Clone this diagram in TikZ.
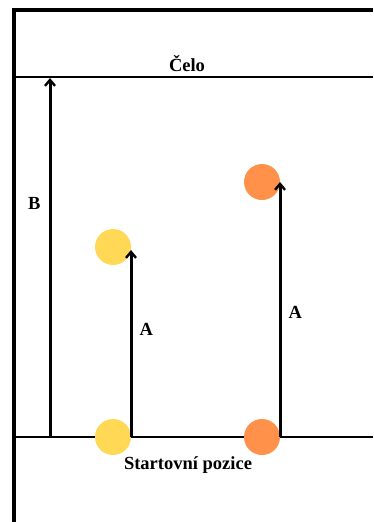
\documentclass[tikz,border=0pt]{standalone}
\usepackage{fontspec}
\setmainfont{Liberation Serif}
\usetikzlibrary{positioning,arrows.meta}

\begin{document}
\begin{tikzpicture}[
x=1pt,y=-1pt,
plate/.style={
  line width=4pt
},
mark line/.style={
  line width=2.2pt
},
rise/.style={
  line width=3pt,
  -{Straight Barb[length=6pt,width=10pt,line width=2.4pt]}
},
spot/.style={
  circle,
  inner sep=0pt,
  minimum size=36pt
},
yellowspot/.style={spot,fill=spotyellow},
orangespot/.style={spot,fill=spotorange},
lbl/.style={
  font=\bfseries\fontsize{18.5}{21}\selectfont,
  inner sep=0pt
}
]
\definecolor{spotyellow}{HTML}{FFD955}
\definecolor{spotorange}{HTML}{FF914A}
\useasboundingbox (0,0) rectangle (373,522);

% plate
\coordinate (tl) at (14,10);
\coordinate (tr) at (373,10);
\coordinate (bl) at (14,522);
\draw[plate] (bl) -- (tl) -- (tr);

% solvent front and start line
\coordinate (fl) at (14,77);
\coordinate (fr) at (373,77);
\coordinate (sl) at (14,437);
\coordinate (sr) at (373,437);
\draw[mark line] (fl) -- (fr);
\draw[mark line] (sl) -- (sr);
\node[lbl] (front) at (187,64) {Čelo};
\node[lbl] (start) at (188,465) {Startovní pozice};

% spots
\node[yellowspot] (y0) at (113,437) {};
\node[yellowspot] (y1) at (113,247) {};
\node[orangespot] (o0) at (262,437) {};
\node[orangespot] (o1) at (262,182) {};

% distances
\coordinate (b0) at (50,437);
\coordinate (b1) at (50,78);
\draw[rise] (b0) -- node[lbl,left=8pt,pos=0.65] {B} (b1);
\coordinate (ya) at (131,437);
\coordinate (yb) at (131,250);
\draw[rise] (ya) -- node[lbl,right=7pt,pos=0.575] {A} (yb);
\coordinate (oa) at (280,437);
\coordinate (ob) at (280,182);
\draw[rise] (oa) -- node[lbl,right=7pt,pos=0.49] {A} (ob);
\end{tikzpicture}
\end{document}
